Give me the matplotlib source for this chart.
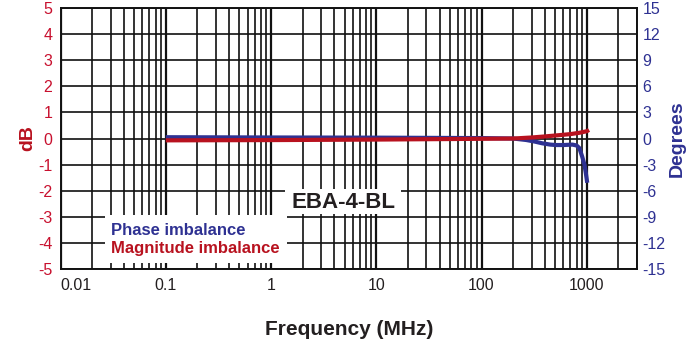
import matplotlib
matplotlib.use("Agg")
import matplotlib.pyplot as plt
from matplotlib.patches import Rectangle
from matplotlib.ticker import LogLocator, NullFormatter
import numpy as np

plt.rcParams["font.family"] = ["Liberation Sans", "DejaVu Sans"]

RED = "#B8121F"
RED_TXT = "#C8102E"
BLUE = "#2E3192"

# magnitude imbalance (dB)
mag_freq = [0.1, 1, 10, 50, 100, 200, 300, 400, 550, 700, 850, 1000, 1050]
mag_db = [-0.07, -0.06, -0.04, -0.02, -0.01, 0.0, 0.04, 0.08, 0.13, 0.17, 0.22, 0.28, 0.33]

# phase imbalance (degrees)
ph_freq = [0.1, 1, 10, 100, 200, 266, 320, 377, 450, 510, 600, 730, 800, 850, 905, 950, 980, 1010]
ph_deg = [0.15, 0.12, 0.1, 0.05, 0.0, -0.17, -0.35, -0.55, -0.7, -0.75, -0.75, -0.7, -0.8, -1.1, -2.1, -3.0, -4.0, -5.1]

x_ticks = [0.01, 0.1, 1, 10, 100, 1000]
x_labels = ["0.01", "0.1", "1", "10", "100", "1000"]
db_ticks = np.arange(-5, 6, 1)
deg_ticks = np.arange(-15, 16, 3)

fig = plt.figure(figsize=(6.99, 3.47), dpi=100)
ax = fig.add_axes([0.0866, 0.2256, 0.8247, 0.7504])
ax2 = ax.twinx()

# phase axis sits behind so the red trace overlays the blue one
ax2.set_zorder(ax.get_zorder() - 1)
ax.patch.set_visible(False)
ax2.patch.set_visible(True)
ax2.patch.set_facecolor("white")
ax2.xaxis.set_visible(True)

ax.set_xscale("log")
ax.set_xlim(0.01, 3000)
ax.set_ylim(-5, 5)
ax2.set_ylim(-15, 15)

ax.set_xticks(x_ticks)
ax.set_xticklabels(x_labels)
ax.xaxis.set_minor_locator(LogLocator(base=10, subs=np.arange(2, 10)))
ax.xaxis.set_minor_formatter(NullFormatter())
ax.set_yticks(db_ticks)
ax.set_yticklabels([str(v) for v in db_ticks])
ax2.set_yticks(deg_ticks)
ax2.set_yticklabels([str(v) for v in deg_ticks])

# grid on the rear axes
ax2.set_axisbelow(True)
ax2.grid(True, which="major", axis="x", color="#111111", lw=1.6)
ax2.grid(True, which="minor", axis="x", color="#111111", lw=1.2)
ax2.grid(True, which="major", axis="y", color="#111111", lw=1.2)

ax.tick_params(axis="both", which="both", length=0)
ax2.tick_params(axis="both", which="both", length=0)
ax2.tick_params(axis="x", which="both", labelbottom=False, labeltop=False)
ax.tick_params(axis="x", labelsize=11.5, pad=7, labelcolor="#231F20")
ax.tick_params(axis="y", labelsize=11.5, pad=6, labelcolor=RED_TXT)
ax2.tick_params(axis="y", labelsize=11.5, pad=4, labelcolor=BLUE)
ax.get_xticklabels()[0].set_horizontalalignment("left")

for a in (ax, ax2):
    for s in a.spines.values():
        s.set_color("#111111")
        s.set_linewidth(1.2)

ax2.plot(ph_freq, ph_deg, color=BLUE, lw=3, solid_capstyle="butt", zorder=3)
ax.plot(mag_freq, mag_db, color=RED, lw=3, solid_capstyle="butt", zorder=3)

ax.set_ylabel("dB", color=RED, fontsize=14, fontweight="bold", labelpad=1)
ax2.set_ylabel("Degrees", color=BLUE, fontsize=14, fontweight="bold", labelpad=2)
ax.set_xlabel("Frequency (MHz)", color="#231F20", fontsize=15, fontweight="bold", labelpad=19)

# white boxes for the legend text and the model name
ax2.add_patch(Rectangle((0.0772, 0.022), 0.3158, 0.184, transform=ax2.transAxes,
                        facecolor="white", edgecolor="none", zorder=1.5))
ax2.add_patch(Rectangle((0.3895, 0.210), 0.2005, 0.096, transform=ax2.transAxes,
                        facecolor="white", edgecolor="none", zorder=1.5))

ax.text(0.0876, 0.1486, "Phase imbalance", transform=ax.transAxes, color=BLUE,
        fontsize=12, fontweight="bold", ha="left", va="center")
ax.text(0.0876, 0.078, "Magnitude imbalance", transform=ax.transAxes, color=RED,
        fontsize=12, fontweight="bold", ha="left", va="center")
ax.text(0.49, 0.256, "EBA-4-BL", transform=ax.transAxes, color="#231F20",
        fontsize=16, fontweight="bold", ha="center", va="center")

fig.savefig("out.png", dpi=100)
